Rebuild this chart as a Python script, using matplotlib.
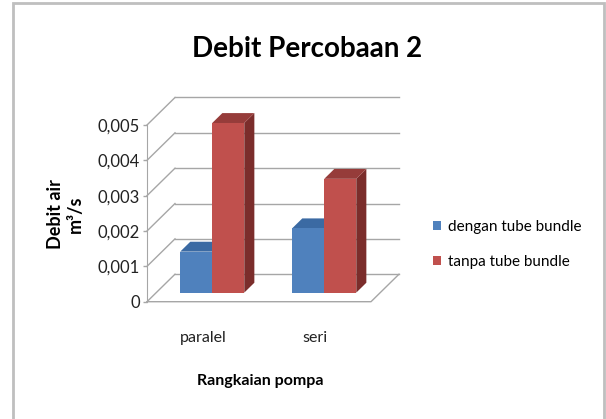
import matplotlib
matplotlib.use('Agg')
import matplotlib.pyplot as plt
from matplotlib.patches import Polygon, Rectangle, Patch
from matplotlib.ticker import FuncFormatter

categories = ['paralel', 'seri']
series = ['dengan tube bundle', 'tanpa tube bundle']
dengan = [0.00116, 0.00182]
tanpa = [0.00480, 0.00322]
yticks = [0, 0.001, 0.002, 0.003, 0.004, 0.005]

front_col = ['#4f81bd', '#c0504d']
top_col = ['#3b6aa3', '#963c3a']
side_col = ['#385d8a', '#7b2d2b']
grid_col = '#a6a6a6'

plt.rcParams['font.family'] = ['Lato', 'DejaVu Sans']

W, H = 606, 419
fig = plt.figure(figsize=(W / 100, H / 100), dpi=100)

# front plane of the 3-D box, in pixels
x0, x1, yb, yt = 147, 371, 301.7, 125
ax = fig.add_axes([x0 / W, 1 - yb / H, (x1 - x0) / W, (yb - yt) / H])
ax.set_xlim(-0.5, 1.5)
ax.set_ylim(0, 0.005)

# depth of the box converted into data units
DX = 28 * 2 / (x1 - x0)
DY = 27.5 * 0.005 / (yb - yt)


def pt(x, y, d):
    return (x + d * DX, y + d * DY)


# walls: diagonals on the left wall + lines on the back wall
for v in yticks:
    ax.plot([-0.5, -0.5 + DX], [v, v + DY], color=grid_col, lw=1, clip_on=False, zorder=1)
    ax.plot([-0.5 + DX, 1.5 + DX], [v + DY, v + DY], color=grid_col, lw=1, clip_on=False, zorder=1)
# floor
ax.plot([-0.5, 1.5, 1.5 + DX], [0, 0, DY], color=grid_col, lw=1, clip_on=False, zorder=1)

# 3-D bars
w = 0.286
d0, d1 = 0.33, 0.69
for i in range(len(categories)):
    for j, vals in enumerate([dengan, tanpa]):
        v = vals[i]
        xl = i + (j - 1) * w
        xr = xl + w
        side = Polygon([pt(xr, 0, d0), pt(xr, 0, d1), pt(xr, v, d1), pt(xr, v, d0)],
                       closed=True, fc=side_col[j], ec='none', clip_on=False, zorder=2 + j)
        top = Polygon([pt(xl, v, d0), pt(xr, v, d0), pt(xr, v, d1), pt(xl, v, d1)],
                      closed=True, fc=top_col[j], ec='none', clip_on=False, zorder=2 + j)
        frontf = Polygon([pt(xl, 0, d0), pt(xr, 0, d0), pt(xr, v, d0), pt(xl, v, d0)],
                         closed=True, fc=front_col[j], ec='none', clip_on=False, zorder=2 + j)
        ax.add_patch(side)
        ax.add_patch(top)
        ax.add_patch(frontf)

# axes
for s in ['top', 'right', 'bottom']:
    ax.spines[s].set_visible(False)
ax.spines['left'].set_color(grid_col)
ax.set_yticks(yticks)
ax.yaxis.set_major_formatter(FuncFormatter(lambda v, p: '0' if v == 0 else ('%.3f' % v).replace('.', ',')))
ax.tick_params(axis='y', length=3, width=1, color=grid_col, pad=2, labelsize=12, labelcolor='#222222')
ax.set_xticks(range(len(categories)))
ax.set_xticklabels(categories)
ax.tick_params(axis='x', length=0, pad=21, labelsize=11.5, labelcolor='#222222')
ax.patch.set_visible(False)

# texts
fig.text(307 / W, 1 - 57 / H, 'Debit Percobaan 2', ha='center', va='baseline',
         fontsize=20, fontweight='bold', color='black')
fig.text(65 / W, 1 - 214 / H, 'Debit air\nm³/s', rotation=90, ha='center', va='center',
         multialignment='center', fontsize=13, fontweight='bold', color='black', linespacing=1.2)
fig.text(260 / W, 1 - 381 / H, 'Rangkaian pompa', ha='center', va='center',
         fontsize=11.5, fontweight='bold', color='black')

handles = [Patch(fc=front_col[0], ec='none'), Patch(fc=front_col[1], ec='none')]
fig.legend(handles, series, loc='center left', bbox_to_anchor=(433 / W, 1 - 244.5 / H),
           frameon=False, fontsize=11, handlelength=0.55, handleheight=0.55,
           handletextpad=0.4, labelspacing=1.35, borderpad=0, borderaxespad=0)

# chart frame
fig.patches.append(Rectangle((13 / W, -0.1), (604 - 13) / W, 1.1 - 3 / H,
                             transform=fig.transFigure, fill=False, ec='#bfbfbf', lw=2))

fig.savefig('out.png', dpi=100)
